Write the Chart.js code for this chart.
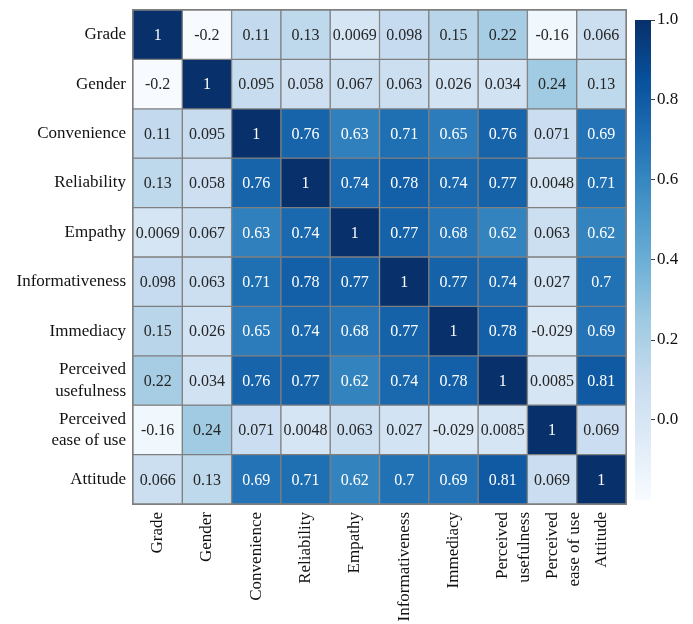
<!DOCTYPE html>
<html>
<head>
<meta charset="utf-8">
<script src="https://cdn.jsdelivr.net/npm/chart.js@4/dist/chart.umd.min.js"></script>
<style>
  html, body { margin: 0; padding: 0; background: #ffffff; }
  #wrap { position: relative; width: 693px; height: 624px; }
  #heat { position: absolute; left: 0; top: 0; }
  #cbar { position: absolute; left: 620px; top: 0; }
</style>
</head>
<body>
<div id="wrap">
  <canvas id="heat" width="693" height="624"></canvas>
  <canvas id="cbar" width="73" height="624"></canvas>
</div>
<script>
// Variables of the correlation matrix (row and column order)
const variables = [
  'Grade', 'Gender', 'Convenience', 'Reliability', 'Empathy',
  'Informativeness', 'Immediacy', ['Perceived', 'usefulness'],
  ['Perceived', 'ease of use'], 'Attitude'
];

// Correlation coefficients, one array per row
const gradeRow       = [1, -0.2, 0.11, 0.13, 0.0069, 0.098, 0.15, 0.22, -0.16, 0.066];
const genderRow      = [-0.2, 1, 0.095, 0.058, 0.067, 0.063, 0.026, 0.034, 0.24, 0.13];
const convenienceRow = [0.11, 0.095, 1, 0.76, 0.63, 0.71, 0.65, 0.76, 0.071, 0.69];
const reliabilityRow = [0.13, 0.058, 0.76, 1, 0.74, 0.78, 0.74, 0.77, 0.0048, 0.71];
const empathyRow     = [0.0069, 0.067, 0.63, 0.74, 1, 0.77, 0.68, 0.62, 0.063, 0.62];
const informRow      = [0.098, 0.063, 0.71, 0.78, 0.77, 1, 0.77, 0.74, 0.027, 0.7];
const immediacyRow   = [0.15, 0.026, 0.65, 0.74, 0.68, 0.77, 1, 0.78, -0.029, 0.69];
const usefulnessRow  = [0.22, 0.034, 0.76, 0.77, 0.62, 0.74, 0.78, 1, 0.0085, 0.81];
const easeRow        = [-0.16, 0.24, 0.071, 0.0048, 0.063, 0.027, -0.029, 0.0085, 1, 0.069];
const attitudeRow    = [0.066, 0.13, 0.69, 0.71, 0.62, 0.7, 0.69, 0.81, 0.069, 1];

// Colour bar tick values
const colorbarTicks = [0.0, 0.2, 0.4, 0.6, 0.8, 1.0];

const matrix = [gradeRow, genderRow, convenienceRow, reliabilityRow, empathyRow,
                informRow, immediacyRow, usefulnessRow, easeRow, attitudeRow];

const vmin = -0.2, vmax = 1.0;

// "Blues" sequential palette
const blues = ['#f7fbff', '#deebf7', '#c6dbef', '#9ecae1', '#6baed6',
               '#4292c6', '#2171b5', '#08519c', '#08306b'];
function hexToRgb(h) {
  return [parseInt(h.slice(1, 3), 16), parseInt(h.slice(3, 5), 16), parseInt(h.slice(5, 7), 16)];
}
const bluesRgb = blues.map(hexToRgb);
function colorRgb(v) {
  let t = (v - vmin) / (vmax - vmin);
  t = Math.max(0, Math.min(1, t));
  const pos = t * (bluesRgb.length - 1);
  const i = Math.min(Math.floor(pos), bluesRgb.length - 2);
  const f = pos - i;
  const a = bluesRgb[i], b = bluesRgb[i + 1];
  return [0, 1, 2].map(k => Math.round(a[k] + (b[k] - a[k]) * f));
}
function colorFor(v) {
  const c = colorRgb(v);
  return `rgb(${c[0]},${c[1]},${c[2]})`;
}
function luminance(rgb) {
  const lin = rgb.map(c => {
    c /= 255;
    return c <= 0.03928 ? c / 12.92 : Math.pow((c + 0.055) / 1.055, 2.4);
  });
  return 0.2126 * lin[0] + 0.7152 * lin[1] + 0.0722 * lin[2];
}

const FONT = '"Liberation Serif", "DejaVu Serif", serif';
Chart.defaults.font.family = FONT;
Chart.defaults.color = '#111111';

// One floating-bar dataset per row: each cell spans [row, row + 1] on the y scale
const datasets = matrix.map((row, r) => ({
  label: Array.isArray(variables[r]) ? variables[r].join(' ') : variables[r],
  data: row.map(() => [r, r + 1]),
  values: row,
  backgroundColor: row.map(colorFor),
  borderColor: '#7f7f7f',
  borderWidth: 1,
  borderSkipped: false,
  grouped: false,
  barPercentage: 1,
  categoryPercentage: 1
}));

// Writes each coefficient in the middle of its cell
const cellLabels = {
  id: 'cellLabels',
  afterDatasetsDraw(chart) {
    const ctx = chart.ctx;
    ctx.save();
    ctx.font = '16px ' + FONT;
    ctx.textAlign = 'center';
    ctx.textBaseline = 'middle';
    chart.data.datasets.forEach((ds, di) => {
      const meta = chart.getDatasetMeta(di);
      meta.data.forEach((bar, ci) => {
        const v = ds.values[ci];
        ctx.fillStyle = luminance(colorRgb(v)) > 0.408 ? '#262626' : '#ffffff';
        const cy = (bar.y + bar.base) / 2;
        ctx.fillText(String(v), bar.x, cy + 1);
      });
    });
    ctx.restore();
  }
};

// Outer frame around the matrix
const frame = {
  id: 'frame',
  afterDatasetsDraw(chart) {
    const a = chart.chartArea, ctx = chart.ctx;
    ctx.save();
    ctx.strokeStyle = '#7f7f7f';
    ctx.lineWidth = 1;
    ctx.strokeRect(a.left - 0.5, a.top - 0.5, a.right - a.left + 1, a.bottom - a.top + 1);
    ctx.restore();
  }
};

new Chart(document.getElementById('heat'), {
  type: 'bar',
  data: { labels: variables, datasets },
  options: {
    responsive: false,
    animation: false,
    layout: { padding: { left: 0, top: 10, right: 67, bottom: 0 } },
    plugins: { legend: { display: false }, tooltip: { enabled: false } },
    scales: {
      x: {
        type: 'category',
        grid: { display: false, drawTicks: false },
        border: { display: false },
        ticks: {
          autoSkip: false,
          minRotation: 90,
          maxRotation: 90,
          padding: 8,
          font: { size: 17, family: FONT, lineHeight: 1.3 },
          color: '#111111'
        },
        afterFit(scale) {
          scale.height = 120;
          scale.paddingLeft = 0;
          scale.paddingRight = 0;
        }
      },
      y: {
        type: 'linear',
        min: 0,
        max: variables.length,
        reverse: true,
        grid: { display: false, drawTicks: false },
        border: { display: false },
        afterBuildTicks(scale) {
          scale.ticks = variables.map((_, i) => ({ value: i + 0.5 }));
        },
        ticks: {
          padding: 7,
          font: { size: 17, family: FONT, lineHeight: 1.25 },
          color: '#111111',
          callback: (value, index) => variables[index]
        },
        afterFit(scale) {
          scale.width = 133;
          scale.paddingTop = 0;
          scale.paddingBottom = 0;
        }
      }
    }
  },
  plugins: [cellLabels, frame]
});

// Colour bar: one floating bar from vmin to vmax filled with the palette
new Chart(document.getElementById('cbar'), {
  type: 'bar',
  data: {
    labels: [''],
    datasets: [{
      data: [[vmin, vmax]],
      barPercentage: 1,
      categoryPercentage: 1,
      borderWidth: 0,
      backgroundColor(ctx) {
        const chart = ctx.chart;
        const y = chart.scales.y;
        if (!chart.chartArea || !y) return blues[4];
        const g = chart.ctx.createLinearGradient(0, y.getPixelForValue(vmin), 0, y.getPixelForValue(vmax));
        blues.forEach((c, i) => g.addColorStop(i / (blues.length - 1), c));
        return g;
      }
    }]
  },
  options: {
    responsive: false,
    animation: false,
    layout: { padding: { left: 15, top: 20, right: 0, bottom: 124 } },
    plugins: { legend: { display: false }, tooltip: { enabled: false } },
    scales: {
      x: { display: false },
      y: {
        position: 'right',
        min: vmin,
        max: vmax,
        border: { display: false },
        grid: { drawOnChartArea: false, drawTicks: true, tickLength: 4, color: '#444444', lineWidth: 1 },
        afterBuildTicks(scale) {
          scale.ticks = colorbarTicks.map(v => ({ value: v }));
        },
        ticks: {
          padding: 2,
          font: { size: 17, family: FONT },
          color: '#111111',
          callback: v => Number(v).toFixed(1)
        },
        afterFit(scale) {
          scale.width = 42;
          scale.paddingTop = 0;
          scale.paddingBottom = 0;
        }
      }
    }
  }
});
</script>
</body>
</html>
